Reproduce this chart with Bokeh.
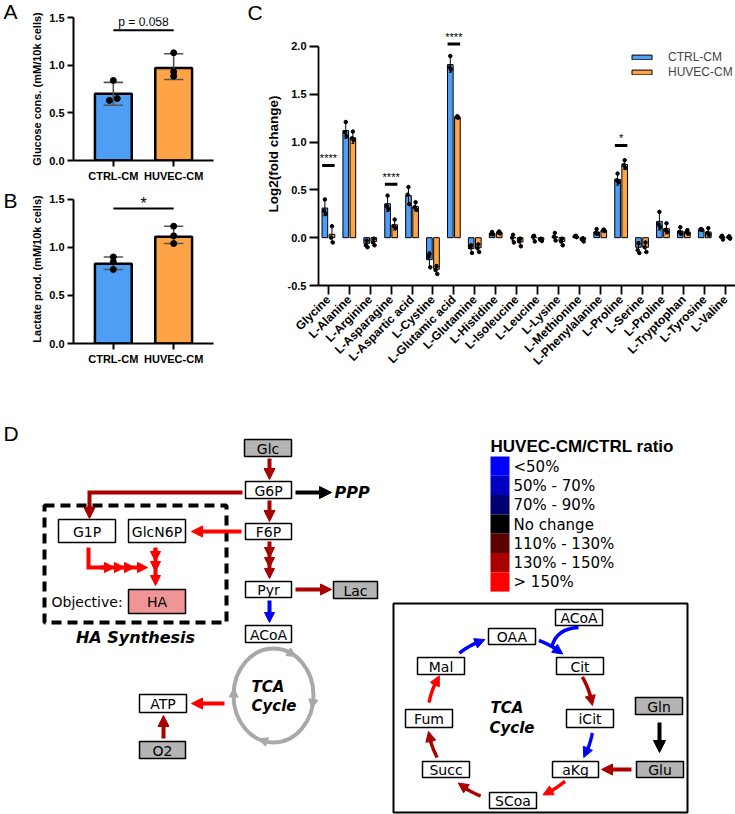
import math
import numpy as np
from bokeh.plotting import figure
from bokeh.layouts import column, row
from bokeh.models import (Range1d, FixedTicker, PrintfTickFormatter, Arrow, NormalHead,
                          ColumnDataSource, Legend, LegendItem)
from bokeh.core.properties import value
from bokeh.embed import file_html
from bokeh.resources import INLINE

# ---------------- Panel A / B data ----------------
groups = ["CTRL-CM", "HUVEC-CM"]
glucose_mean = [0.70, 0.97]
glucose_err_lo = [0.58, 0.85]
glucose_err_hi = [0.82, 1.12]
glucose_ctrl_pts = [0.84, 0.63, 0.65]
glucose_huvec_pts = [1.13, 0.93, 0.885]
glucose_sig_text = "p = 0.058"
glucose_sig_level = 1.365

lactate_mean = [0.83, 1.11]
lactate_err_lo = [0.77, 1.04]
lactate_err_hi = [0.90, 1.22]
lactate_ctrl_pts = [0.90, 0.85, 0.77]
lactate_huvec_pts = [1.22, 1.12, 1.04]
lactate_sig_text = "*"
lactate_sig_level = 1.405

ab_yticks = [0.0, 0.5, 1.0, 1.5]

# ---------------- Panel C data ----------------
aa_names = ["Glycine", "L-Alanine", "L-Arginine", "L-Asparagine", "L-Aspartic acid", "L-Cystine",
            "L-Glutamic acid", "L-Glutamine", "L-Histidine", "L-Isoleucine", "L-Leucine", "L-Lysine",
            "L-Methionine", "L-Phenylalanine", "L-Proline", "L-Serine", "L-Proline", "L-Tryptophan",
            "L-Tyrosine", "L-Valine"]
ctrl_mean = [0.31, 1.12, -0.06, 0.355, 0.44, -0.23, 1.81, -0.115, 0.045, 0.0, 0.005, 0.01, 0.015,
             0.06, 0.61, -0.10, 0.17, 0.07, 0.085, 0.01]
ctrl_sd = [0.08, 0.08, 0.035, 0.08, 0.09, 0.08, 0.08, 0.045, 0.015, 0.03, 0.025, 0.035, 0.01,
           0.03, 0.06, 0.06, 0.09, 0.04, 0.01, 0.02]
huvec_mean = [0.035, 1.045, -0.04, 0.135, 0.325, -0.33, 1.26, -0.105, 0.055, -0.045, -0.02, -0.04,
              -0.02, 0.075, 0.765, -0.10, 0.095, 0.06, 0.06, 0.005]
huvec_sd = [0.08, 0.06, 0.04, 0.055, 0.04, 0.05, 0.01, 0.04, 0.01, 0.04, 0.02, 0.04, 0.02, 0.01,
            0.05, 0.055, 0.055, 0.025, 0.04, 0.015]
ctrl_pts = [[0.40, 0.28, 0.25], [1.21, 1.10, 1.06], [-0.03, -0.08, -0.10], [0.44, 0.33, 0.30],
            [0.53, 0.45, 0.35], [-0.17, -0.20, -0.31], [1.90, 1.78, 1.76], [-0.08, -0.10, -0.16],
            [0.06, 0.04, 0.035], [0.03, 0.0, -0.05], [0.02, 0.01, -0.04], [0.05, 0.01, -0.03],
            [0.02, 0.015, 0.005], [0.09, 0.05, 0.04], [0.67, 0.60, 0.58], [-0.06, -0.13, -0.16],
            [0.27, 0.14, 0.11], [0.11, 0.06, 0.04], [0.09, 0.085, 0.08], [0.02, 0.01, -0.02]]
huvec_pts = [[0.12, 0.0, -0.05], [1.11, 1.04, 1.02], [-0.01, -0.05, -0.08], [0.19, 0.12, 0.10],
             [0.37, 0.32, 0.29], [-0.30, -0.34, -0.38], [1.27, 1.26, 1.255], [-0.07, -0.11, -0.15],
             [0.065, 0.055, 0.045], [-0.01, -0.04, -0.09], [-0.01, -0.02, -0.035], [-0.01, -0.04, -0.08],
             [-0.005, -0.02, -0.04], [0.085, 0.075, 0.07], [0.81, 0.76, 0.73], [-0.05, -0.10, -0.15],
             [0.15, 0.08, 0.06], [0.08, 0.06, 0.04], [0.10, 0.05, 0.03], [0.015, 0.005, -0.01]]
sig_idx = [0, 3, 6, 14]
sig_level = [0.755, 0.56, 2.025, 0.965]
sig_marks = ["****", "****", "****", "*"]
c_yticks = [-0.5, 0.0, 0.5, 1.0, 1.5, 2.0]

# ---------------- Panel D legend data ----------------
ratio_title = "HUVEC-CM/CTRL ratio"
ratio_labels = ["<50%", "50% - 70%", "70% - 90%", "No change", "110% - 130%", "130% - 150%", "> 150%"]
ratio_colors = ["#0000FF", "#0000C0", "#000070", "#000000", "#5A0000", "#AA0000", "#FF0000"]

# ---------------- styles ----------------
BLUE = "#4E9EF5"
ORANGE = "#FFA347"
FONT = "Liberation Sans"
DFONT = "DejaVu Sans"


def style_axes(p, tick_out, label_size, line_w=2, tick_font="11px"):
    for ax in p.axis:
        ax.axis_line_width = line_w
        ax.axis_line_color = "black"
        ax.major_tick_line_width = line_w
        ax.major_tick_line_color = "black"
        ax.major_tick_out = tick_out
        ax.major_tick_in = 0
        ax.minor_tick_line_color = None
        ax.major_label_text_font = FONT
        ax.major_label_text_font_style = "bold"
        ax.major_label_text_font_size = tick_font
        ax.major_label_text_color = "black"
        ax.major_label_standoff = 3
        ax.axis_label_text_font = FONT
        ax.axis_label_text_font_style = "bold"
        ax.axis_label_text_font_size = label_size
        ax.axis_label_text_color = "black"
    p.xgrid.grid_line_color = None
    p.ygrid.grid_line_color = None
    p.outline_line_color = None


def letter_fig(w, h, letters, xs_, ys_):
    f = figure(width=w, height=h, x_range=Range1d(0, w), y_range=Range1d(h, 0), x_axis_type=None,
               y_axis_type=None, min_border=0, toolbar_location=None, tools="", output_backend="svg")
    f.outline_line_color = None
    f.text(x=xs_, y=ys_, text=letters, text_align="left", text_baseline="middle",
           text_font=value(FONT), text_font_size="21px", text_color="black")
    return column(f)


def bar_panel(height, top_b, bottom_b, y_end, ylabel, mean, lo, hi, pts_c, pts_h, jit_c,
              sig_text, sig_lvl, sig_size, sig_dy):
    p = figure(width=202, height=height, x_range=Range1d(-0.66, 1.66), y_range=Range1d(0, y_end),
               min_border_left=40, min_border_right=17, min_border_top=top_b, min_border_bottom=bottom_b,
               toolbar_location=None, tools="", output_backend="svg")
    p.vbar(x=[0, 1], top=mean, bottom=0, width=0.61, fill_color=[BLUE, ORANGE],
           line_color="black", line_width=2.5)
    xs = [0, 1]
    p.segment(x0=xs, y0=lo, x1=xs, y1=hi, line_color="#555555", line_width=1.6)
    for yv in (lo, hi):
        p.segment(x0=[x - 0.16 for x in xs], y0=yv, x1=[x + 0.16 for x in xs], y1=yv,
                  line_color="#555555", line_width=1.6)
    px = [0 + j for j in jit_c] + [1, 1, 1]
    py = list(pts_c) + list(pts_h)
    p.scatter(px, py, size=6, color="black")
    p.segment(x0=[0], y0=[sig_lvl], x1=[1], y1=[sig_lvl], line_color="black", line_width=2)
    p.text(x=[0.5], y=[sig_lvl + sig_dy], text=[sig_text], text_align="center",
           text_baseline="middle", text_font=value(FONT), text_font_size=sig_size, text_color="black")
    p.xaxis.ticker = FixedTicker(ticks=[0, 1])
    p.xaxis.major_label_overrides = {0: groups[0], 1: groups[1]}
    p.yaxis.ticker = FixedTicker(ticks=ab_yticks)
    p.yaxis.formatter = PrintfTickFormatter(format="%.1f")
    p.yaxis.bounds = (0, 1.5)
    p.yaxis.axis_label = ylabel
    style_axes(p, 6, "11px")
    p.yaxis.axis_label_standoff = 3
    return p


pA = bar_panel(184, 17, 23, 1.5, "Glucose cons. (mM/10k cells)", glucose_mean, glucose_err_lo,
               glucose_err_hi, glucose_ctrl_pts, glucose_huvec_pts, [0, -0.065, 0.065],
               glucose_sig_text, glucose_sig_level, "12px", 0.083)
pB = bar_panel(200, 10, 41, 1.55, "Lactate prod. (mM/10k cells)", lactate_mean, lactate_err_lo,
               lactate_err_hi, lactate_ctrl_pts, lactate_huvec_pts, [0, 0, 0],
               lactate_sig_text, lactate_sig_level, "16px", 0.049)
lAB = letter_fig(28, 384, ["A", "B"], [3, 3], [11, 200])

# ---------------- Panel C ----------------
pC = figure(width=473, height=384, x_range=Range1d(-0.474, 19.47), y_range=Range1d(-0.5, 2.25),
            min_border_left=52, min_border_right=0, min_border_top=22, min_border_bottom=99,
            toolbar_location=None, tools="", output_backend="svg")
n = len(aa_names)
xs = np.arange(n)
OFF, BW = 0.17, 0.27
xc = xs - OFF
xh = xs + OFF
rc = pC.vbar(x=xc, top=ctrl_mean, bottom=0, width=BW, fill_color=BLUE, line_color="black", line_width=1)
rh = pC.vbar(x=xh, top=huvec_mean, bottom=0, width=BW, fill_color=ORANGE, line_color="black", line_width=1)
for xpos, m, sd, pts in ((xc, ctrl_mean, ctrl_sd, ctrl_pts), (xh, huvec_mean, huvec_sd, huvec_pts)):
    m = np.array(m)
    sd = np.array(sd)
    lo = m - sd
    hi = m + sd
    pC.segment(x0=xpos, y0=lo, x1=xpos, y1=hi, line_color="black", line_width=1)
    for yv in (lo, hi):
        pC.segment(x0=xpos - 0.07, y0=yv, x1=xpos + 0.07, y1=yv, line_color="black", line_width=1)
    jit = [0.0, -0.04, 0.04]
    pxs = [xpos[i] + jit[k] for i in range(n) for k in range(3)]
    pys = [pts[i][k] for i in range(n) for k in range(3)]
    pC.scatter(pxs, pys, size=3.5, color="black")

sx = np.array(sig_idx, dtype=float)
pC.segment(x0=sx - 0.3, y0=sig_level, x1=sx + 0.3, y1=sig_level, line_color="black", line_width=3)
pC.text(x=sx, y=np.array(sig_level) + 0.078, text=sig_marks, text_align="center",
        text_baseline="middle", text_font=value(FONT), text_font_size="11px", text_color="black")

pC.xaxis.ticker = FixedTicker(ticks=list(range(n)))
pC.xaxis.major_label_overrides = {i: aa_names[i] for i in range(n)}
pC.xaxis.major_label_orientation = math.pi / 4
pC.yaxis.ticker = FixedTicker(ticks=c_yticks)
pC.yaxis.formatter = PrintfTickFormatter(format="%.1f")
pC.yaxis.bounds = (-0.5, 2.0)
pC.yaxis.axis_label = "Log2(fold change)"
style_axes(pC, 9, "13.5px", line_w=1.8)
pC.xaxis.major_label_text_font_size = "12px"
pC.yaxis.axis_label_standoff = 4
pC.xaxis.major_label_standoff = 3

legend = Legend(items=[LegendItem(label=groups[0], renderers=[rc]),
                       LegendItem(label=groups[1], renderers=[rh])],
                location=(311, 206), padding=0, margin=0, spacing=1, glyph_width=25, glyph_height=6,
                label_standoff=14, label_height=13, label_text_font=FONT, label_text_font_size="12px",
                border_line_color=None, background_fill_alpha=0)
pC.add_layout(legend)
lC = letter_fig(32, 384, ["C"], [17], [12])

# ---------------- Panel D (diagram, coordinates in picture pixels) ----------------
pD = figure(width=735, height=430, x_range=Range1d(0, 735), y_range=Range1d(814, 384),
            x_axis_type=None, y_axis_type=None, min_border=0, toolbar_location=None, tools="",
            output_backend="svg")
pD.outline_line_color = None

RED = ratio_colors[6]
DRED = ratio_colors[5]
BLU = ratio_colors[0]
BLK = ratio_colors[3]
GRAY = "#B4B4B4"
PINK = "#F09595"
WHITE = "#FFFFFF"
CGRAY = "#A8A8A8"

boxes = [
    ("Glc", 244, 291, 439, 456, GRAY), ("G6P", 245, 291, 481, 498, WHITE),
    ("F6P", 245, 291, 523, 539, WHITE), ("Pyr", 245, 291, 581, 597, WHITE),
    ("ACoA", 245, 291, 625, 642, WHITE), ("Lac", 333, 377, 581, 598, GRAY),
    ("G1P", 58, 115, 519, 542, WHITE), ("GlcN6P", 128, 185, 519, 542, WHITE),
    ("HA", 128, 185, 589, 613, PINK), ("ATP", 139, 186, 694, 712, WHITE),
    ("O2", 139, 185, 741, 758, GRAY),
    ("ACoA", 555, 602, 609, 625, WHITE), ("OAA", 488, 535, 628, 644, WHITE),
    ("Cit", 556, 603, 657, 674, WHITE), ("Mal", 417, 464, 657, 674, WHITE),
    ("Fum", 405, 452, 709, 727, WHITE), ("iCit", 566, 613, 709, 727, WHITE),
    ("Succ", 422, 469, 761, 777, WHITE), ("aKg", 552, 598, 761, 777, WHITE),
    ("SCoa", 489, 536, 792, 808, WHITE), ("Gln", 635, 682, 697, 714, GRAY),
    ("Glu", 636, 683, 761, 777, GRAY),
]

# frames
pD.quad(left=[44], right=[226], top=[505], bottom=[622], fill_color=None, line_color="black",
        line_width=4, line_dash="10 6")
pD.quad(left=[393], right=[687], top=[603], bottom=[812], fill_color=None, line_color="black",
        line_width=2)

pD.quad(left=[b[1] for b in boxes], right=[b[2] for b in boxes], top=[b[3] for b in boxes],
        bottom=[b[4] for b in boxes], fill_color=[b[5] for b in boxes], line_color="black", line_width=1.5)
pD.text(x=[(b[1] + b[2]) / 2 for b in boxes], y=[(b[3] + b[4]) / 2 + 0.5 for b in boxes],
        text=[b[0] for b in boxes], text_align="center", text_baseline="middle",
        text_font=value(DFONT), text_font_size="14px", text_color="black")


def add_arrows(p, segs, color, size=11, lw=4):
    src = ColumnDataSource(dict(x0=[s[0] for s in segs], y0=[s[1] for s in segs],
                                x1=[s[2] for s in segs], y1=[s[3] for s in segs]))
    p.add_layout(Arrow(end=NormalHead(size=size, fill_color=color, line_color=color, line_width=1),
                       source=src, x_start="x0", y_start="y0", x_end="x1", y_end="y1",
                       line_color=color, line_width=lw))


# plain paths
pD.multi_line(xs=[[242, 89, 89]], ys=[[492, 492, 508]], line_color=DRED, line_width=4, line_join="miter")
pD.multi_line(xs=[[88, 88, 104], [155, 155]], ys=[[547, 567, 567], [547, 552]], line_color=RED,
              line_width=4, line_join="miter")

add_arrows(pD, [(269, 458, 269, 479), (269, 500, 269, 521), (295, 589, 331, 589),
                (163, 738, 163, 715), (631, 769, 601, 769), (89, 505, 89, 518)], DRED)
add_arrows(pD, [(269, 541, 269, 557), (269, 550, 269, 567), (269, 560, 269, 578)], DRED, size=10)
add_arrows(pD, [(241, 531, 191, 531), (224, 703, 191, 703)], RED)
add_arrows(pD, [(100, 567, 114, 567), (110, 567, 124, 567), (120, 567, 134, 567), (130, 567, 147, 567),
                (155, 548, 155, 561), (155, 556, 155, 571), (155, 566, 155, 585)], RED, size=10)
add_arrows(pD, [(269, 600, 269, 622)], BLU, size=10)
add_arrows(pD, [(295, 492, 331, 492), (659, 722, 659, 752)], BLK, size=12)

# left TCA ring
cx, cy, rx, ry = 273, 695, 40, 47
pD.ellipse(x=[cx], y=[cy], width=[2 * rx], height=[2 * ry], fill_color=None, line_color=CGRAY, line_width=4)
ring_heads = []
for th in (304, 16, 112, 189):
    t1 = math.radians(th)
    t0 = math.radians(th - 12)
    ring_heads.append((cx + rx * math.cos(t0), cy + ry * math.sin(t0), cx + rx * math.cos(t1), cy + ry * math.sin(t1)))
add_arrows(pD, ring_heads, CGRAY, size=9, lw=3)

# right TCA arcs
acx, acy, ar = 510, 718, 83
arcs = [(-128, -108, BLU), (-70, -51, BLU), (-30, -9, DRED), (10, 28, BLU), (49, 67, RED),
        (111, 129, DRED), (152, 171, DRED), (191, 211, RED)]
for a0, a1, col in arcs:
    ts = np.radians(np.linspace(a0, a1 - 4, 20))
    pD.line(acx + ar * np.cos(ts), acy + ar * np.sin(ts), line_color=col, line_width=3.5)
    tA = math.radians(a1 - 8)
    tB = math.radians(a1)
    add_arrows(pD, [(acx + ar * math.cos(tA), acy + ar * math.sin(tA), acx + ar * math.cos(tB), acy + ar * math.sin(tB))],
               col, size=10, lw=3.5)
pD.quadratic(x0=[578], y0=[627], x1=[551.5], y1=[646], cx=[556], cy=[628], line_color=BLU, line_width=3.5)


# texts
def dtext(x, y, t, size="14px", style="normal", align="left", font=DFONT):
    pD.text(x=[x], y=[y], text=[t], text_align=align, text_baseline="middle", text_font=value(font),
            text_font_size=size, text_font_style=style, text_color="black")


dtext(334, 492, "PPP", "16px", "bold italic")
dtext(135, 637, "HA Synthesis", "16px", "bold italic", "center")
dtext(51, 601, "Objective:")
dtext(251, 686, "TCA", "15px", "bold italic")
dtext(251, 705, "Cycle", "15px", "bold italic")
dtext(490, 707, "TCA", "15px", "bold italic")
dtext(489, 727, "Cycle", "15px", "bold italic")
dtext(3, 433, "D", "21px", "normal", "left", FONT)

# colour legend
row_h = 19.3
y0 = 456
tops = [y0 + i * row_h for i in range(len(ratio_labels))]
pD.quad(left=490, right=509, top=tops, bottom=[t + row_h for t in tops], fill_color=ratio_colors,
        line_color=None)
pD.text(x=[513] * len(ratio_labels), y=[t + row_h / 2 + 0.5 for t in tops], text=ratio_labels,
        text_align="left", text_baseline="middle", text_font=value(DFONT), text_font_size="15px",
        text_color="black")
dtext(490, 446, ratio_title, "17px", "bold", "left", FONT)

top_row = row(lAB, column(pA, pB), lC, pC)
layout = column(top_row, pD)
open("out.html", "w").write(file_html(layout, INLINE, "Figure"))
